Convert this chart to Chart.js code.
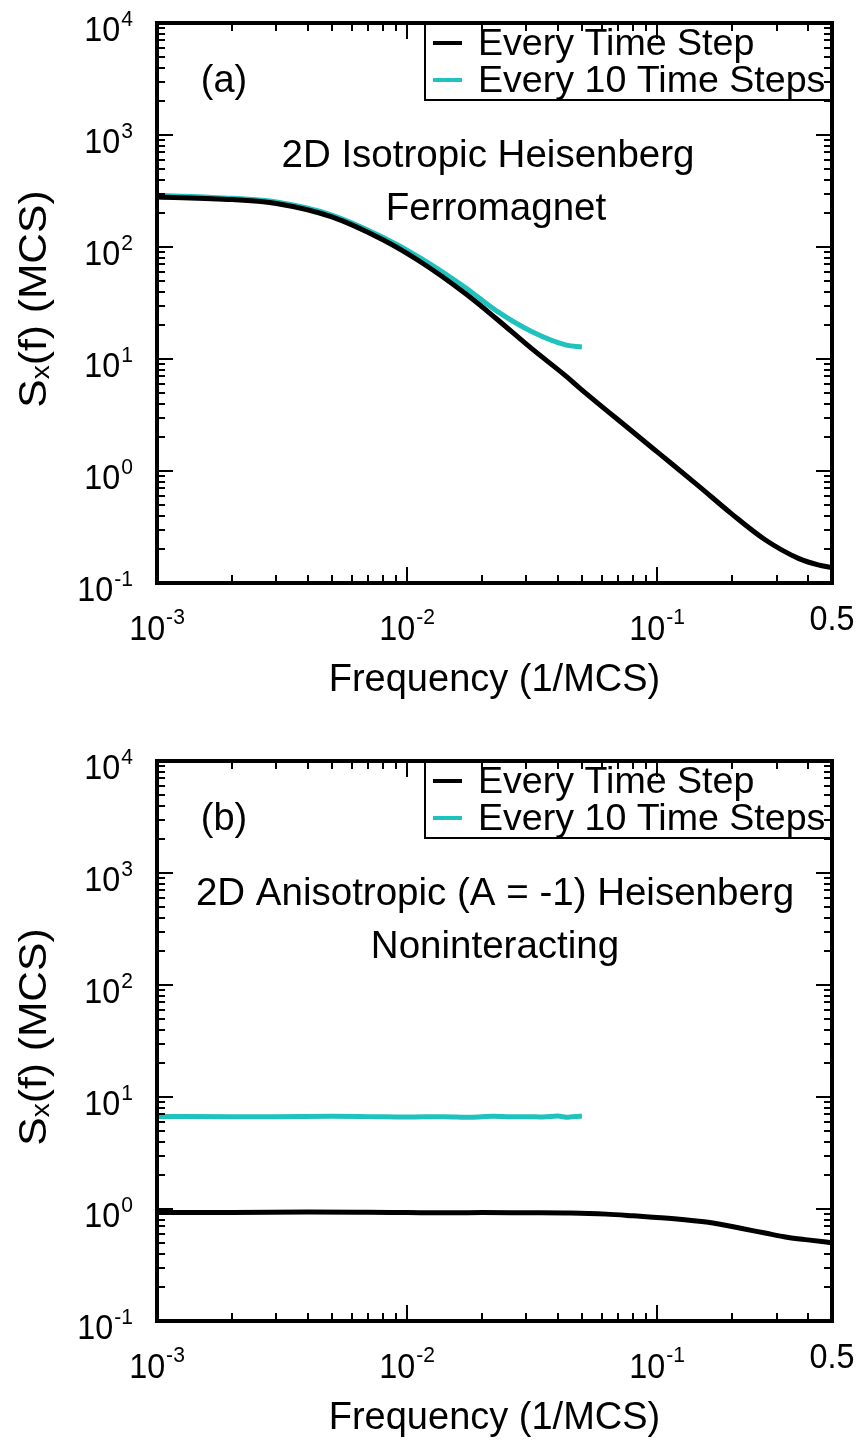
<!DOCTYPE html>
<html>
<head>
<meta charset="utf-8">
<script src="https://cdn.jsdelivr.net/npm/chart.js@4.4.1/dist/chart.umd.min.js"></script>
<style>
  html, body { margin: 0; padding: 0; background: #fff; }
  #wrap { position: relative; width: 865px; height: 1441px; }
  canvas { position: absolute; left: 0; }
  #cA { top: 0; }
  #cB { top: 720px; }
</style>
</head>
<body>
<div id="wrap">
  <canvas id="cA" width="865" height="720"></canvas>
  <canvas id="cB" width="865" height="721"></canvas>
</div>
<script>
// ---------- DATA ----------
const seriesLabels = ['Every Time Step', 'Every 10 Time Steps'];

// Panel (a): 2D isotropic Heisenberg ferromagnet
const freqA_every = [0.001, 0.002, 0.003, 0.005, 0.008, 0.0115, 0.0172, 0.0227, 0.0316, 0.0433, 0.049, 0.0798, 0.1, 0.147, 0.198, 0.271, 0.369, 0.44, 0.5];
const specA_every = [280, 265, 245, 186, 116, 72, 38, 23, 12.3, 7.0, 5.5, 2.24, 1.48, 0.73, 0.416, 0.242, 0.165, 0.145, 0.137];
const freqA_ten   = [0.001, 0.002, 0.003, 0.005, 0.008, 0.0115, 0.0172, 0.0227, 0.0316, 0.0433, 0.05];
const specA_ten   = [290, 272, 252, 193, 122, 78, 43, 27, 17.5, 13.3, 12.8];

// Panel (b): 2D anisotropic (A = -1) Heisenberg, noninteracting
const freqB_every = [0.001, 0.002, 0.004, 0.007, 0.01, 0.015, 0.02, 0.03, 0.045, 0.0625, 0.08, 0.117, 0.16, 0.218, 0.27, 0.33, 0.4, 0.5];
const specB_every = [0.93, 0.93, 0.94, 0.935, 0.93, 0.925, 0.93, 0.925, 0.92, 0.90, 0.87, 0.82, 0.76, 0.67, 0.61, 0.56, 0.53, 0.50];
const freqB_ten   = [0.001, 0.002, 0.003, 0.005, 0.007, 0.01, 0.014, 0.018, 0.022, 0.026, 0.03, 0.035, 0.04, 0.044, 0.047, 0.05];
const specB_ten   = [6.7, 6.68, 6.65, 6.72, 6.68, 6.62, 6.68, 6.6, 6.72, 6.65, 6.68, 6.62, 6.75, 6.6, 6.7, 6.75];

// Tick labels
const yTickValues = [0.1, 1, 10, 100, 1000, 10000];
const yTickBases  = ['10', '10', '10', '10', '10', '10'];
const yTickExps   = ['-1', '0', '1', '2', '3', '4'];
const xTickValues = [0.001, 0.01, 0.1, 0.5];
const xTickBases  = ['10', '10', '10', '0.5'];
const xTickExps   = ['-3', '-2', '-1', ''];

const xTitle = 'Frequency (1/MCS)';
const yTitleParts = ['S', 'x', '(f) (MCS)'];

// ---------- STYLE ----------
const FONT = '"Liberation Sans", Arial, Helvetica, sans-serif';
const BLACK = '#000000';
const CYAN = '#1fc2be';

function pts(f, v) { return f.map((x, i) => ({ x: x, y: v[i] })); }

function txt(ctx, s, x, y, size, align, sx, sy) {
  ctx.save();
  ctx.translate(x, y);
  ctx.scale(sx, sy);
  ctx.font = size + 'px ' + FONT;
  ctx.textAlign = align;
  ctx.textBaseline = 'alphabetic';
  ctx.fillText(s, 0, 0);
  ctx.restore();
}
function tw(ctx, s, size, sx) {
  ctx.font = size + 'px ' + FONT;
  return ctx.measureText(s).width * sx;
}

const TK = 33, SUP = 21.5, TSX = 0.98, TSY = 1.06;

const paperPlugin = {
  id: 'paper',
  afterDatasetsDraw(chart, args, o) {
    const { ctx, chartArea: a, scales: { x, y } } = chart;
    ctx.save();
    ctx.strokeStyle = '#000';
    ctx.fillStyle = '#000';
    ctx.lineCap = 'butt';
    const line = (x1, y1, x2, y2) => { ctx.beginPath(); ctx.moveTo(x1, y1); ctx.lineTo(x2, y2); ctx.stroke(); };

    // inside ticks, y
    ctx.lineWidth = 2;
    for (let e = -1; e <= 3; e++) {
      for (let k = 1; k <= 9; k++) {
        const v = k * Math.pow(10, e);
        if (v <= y.min * 1.0001 || v >= y.max * 0.9999) continue;
        const py = Math.round(y.getPixelForValue(v));
        const len = k === 1 ? 16 : 8;
        line(a.left, py, a.left + len, py);
        line(a.right, py, a.right - len, py);
      }
    }
    // inside ticks, x
    for (let e = -3; e <= -1; e++) {
      for (let k = 1; k <= 9; k++) {
        const v = k * Math.pow(10, e);
        if (v <= x.min * 1.0001 || v >= x.max * 0.9999) continue;
        const px = Math.round(x.getPixelForValue(v));
        const len = k === 1 ? 16 : 8;
        line(px, a.bottom, px, a.bottom - len);
        line(px, a.top, px, a.top + len);
      }
    }
    // frame
    ctx.lineWidth = 4;
    ctx.strokeRect(a.left, a.top, a.right - a.left, a.bottom - a.top);

    // x tick labels
    for (let i = 0; i < xTickValues.length; i++) {
      const px = x.getPixelForValue(xTickValues[i]);
      const wb = tw(ctx, xTickBases[i], TK, TSX);
      if (xTickExps[i]) {
        const we = tw(ctx, xTickExps[i], SUP, TSX);
        const start = px - (wb + we + 1) / 2;
        txt(ctx, xTickBases[i], start, a.bottom + 57, TK, 'left', TSX, TSY);
        txt(ctx, xTickExps[i], start + wb + 1, a.bottom + 41, SUP, 'left', TSX, TSY);
      } else {
        txt(ctx, xTickBases[i], px, a.bottom + 47, TK, 'center', TSX, TSY);
      }
    }
    // y tick labels
    for (let i = 0; i < yTickValues.length; i++) {
      const py = y.getPixelForValue(yTickValues[i]);
      const right = a.left - 24;
      const we = tw(ctx, yTickExps[i], SUP, TSX);
      txt(ctx, yTickExps[i], right - we, py + 3, SUP, 'left', TSX, TSY);
      const wb = tw(ctx, yTickBases[i], TK, TSX);
      txt(ctx, yTickBases[i], right - we - 1 - wb, py + 18, TK, 'left', TSX, TSY);
    }

    // x title
    txt(ctx, xTitle, (a.left + a.right) / 2, a.bottom + 108, 38, 'center', 1, 1.04);

    // y title (rotated)
    ctx.save();
    ctx.translate(46, a.top + 276);
    ctx.rotate(-Math.PI / 2);
    const L = 1.12;
    const w0 = tw(ctx, yTitleParts[0], 38, L);
    const w1 = tw(ctx, yTitleParts[1], 25, L);
    const w2 = tw(ctx, yTitleParts[2], 38, L);
    const sx = -(w0 + w1 + w2) / 2;
    txt(ctx, yTitleParts[0], sx, 0, 38, 'left', L, 1);
    txt(ctx, yTitleParts[1], sx + w0, 3, 25, 'left', L, 1);
    txt(ctx, yTitleParts[2], sx + w0 + w1, 0, 38, 'left', L, 1);
    ctx.restore();

    // legend
    const lx = 425, ly = a.top - 1;
    ctx.lineWidth = 2;
    ctx.strokeStyle = '#000';
    ctx.strokeRect(lx, ly, a.right - lx, 78);
    const ds = chart.data.datasets;
    const rows = [a.top + 20, a.top + 57];
    for (let i = 0; i < ds.length; i++) {
      ctx.strokeStyle = ds[i].borderColor;
      ctx.lineWidth = 4;
      line(433, rows[i], 462, rows[i]);
      ctx.fillStyle = '#000';
      txt(ctx, ds[i].label, 478, rows[i] + 12, 37.6, 'left', 1, 1);
    }

    // annotations
    ctx.fillStyle = '#000';
    txt(ctx, o.tag, 224, a.top + 69, 38, 'center', 1, 1);
    txt(ctx, o.line1, o.c1, a.top + 144, 38.5, 'center', 1, 1);
    txt(ctx, o.line2, o.c2, a.top + 197, 38.5, 'center', 1, 1);
    ctx.restore();
  }
};

function makeChart(id, padTop, padBottom, fE, vE, fT, vT, ann) {
  return new Chart(document.getElementById(id), {
    type: 'line',
    data: {
      datasets: [
        { label: seriesLabels[0], data: pts(fE, vE), borderColor: BLACK, borderWidth: 5,
          pointRadius: 0, fill: false, cubicInterpolationMode: 'monotone' },
        { label: seriesLabels[1], data: pts(fT, vT), borderColor: CYAN, borderWidth: 5,
          pointRadius: 0, fill: false, cubicInterpolationMode: 'monotone' }
      ]
    },
    options: {
      responsive: false,
      animation: false,
      devicePixelRatio: 1,
      layout: { padding: { left: 157, right: 33, top: padTop, bottom: padBottom } },
      scales: {
        x: { type: 'logarithmic', min: 0.001, max: 0.5, display: false },
        y: { type: 'logarithmic', min: 0.1, max: 10000, display: false }
      },
      plugins: {
        legend: { display: false },
        tooltip: { enabled: false },
        paper: ann
      }
    },
    plugins: [paperPlugin]
  });
}

makeChart('cA', 23, 137, freqA_every, specA_every, freqA_ten, specA_ten,
  { tag: '(a)', line1: '2D Isotropic Heisenberg', c1: 488, line2: 'Ferromagnet', c2: 496 });
makeChart('cB', 41, 120, freqB_every, specB_every, freqB_ten, specB_ten,
  { tag: '(b)', line1: '2D Anisotropic (A = -1) Heisenberg', c1: 495, line2: 'Noninteracting', c2: 495 });
</script>
</body>
</html>
